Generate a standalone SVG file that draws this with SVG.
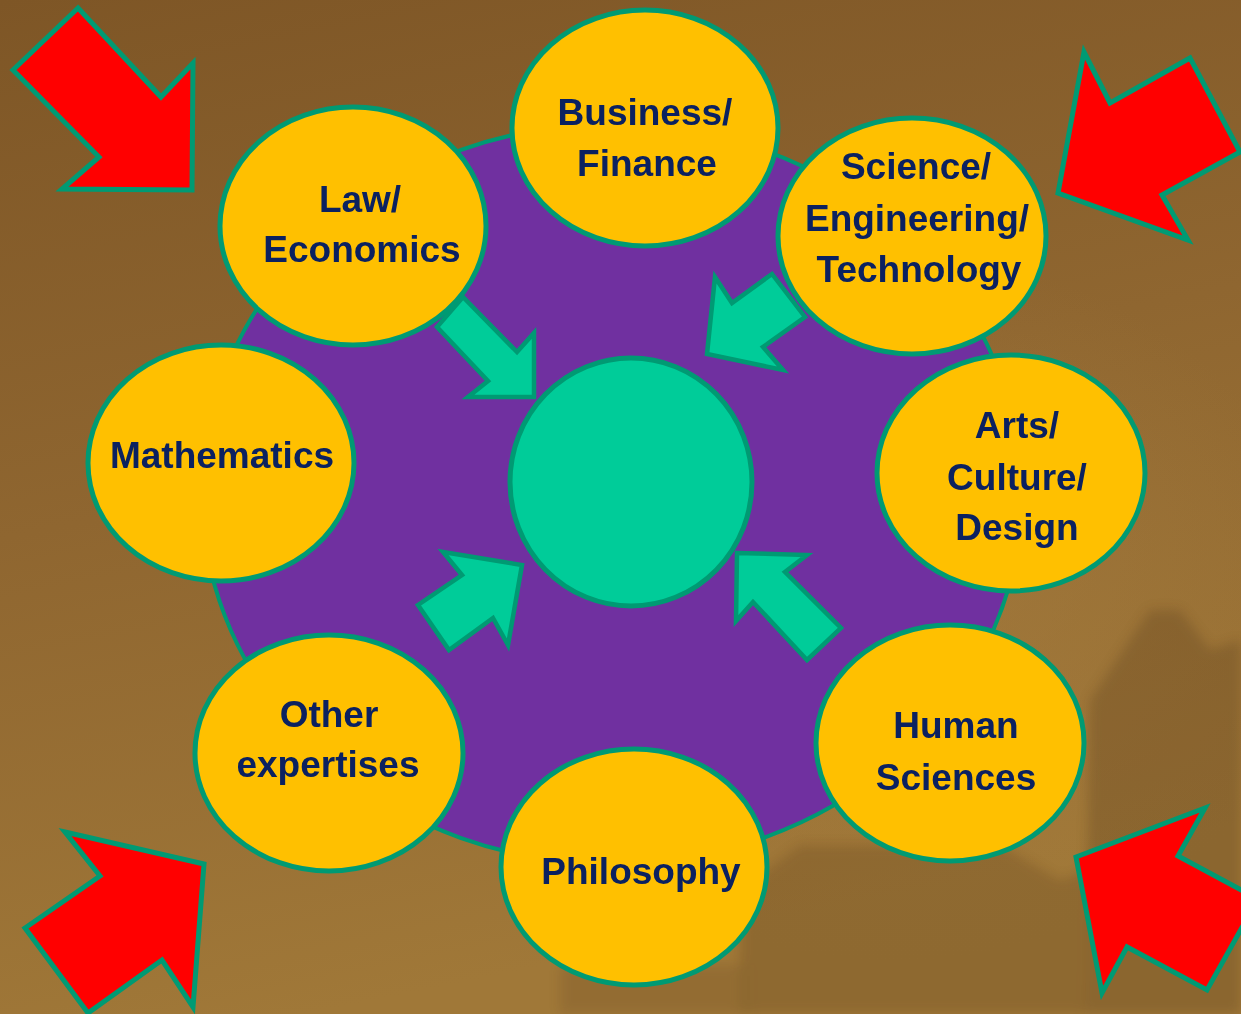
<svg xmlns="http://www.w3.org/2000/svg" width="1241" height="1014" viewBox="0 0 1241 1014">
<defs>
<linearGradient id="bg" x1="0" y1="0" x2="0.25" y2="1">
<stop offset="0" stop-color="#7e5626"/>
<stop offset="0.5" stop-color="#8f6630"/>
<stop offset="1" stop-color="#a07838"/>
</linearGradient>
<radialGradient id="glow" cx="0.72" cy="0.6" r="0.35">
<stop offset="0" stop-color="#a57c3e" stop-opacity="0.6"/>
<stop offset="1" stop-color="#a57c3e" stop-opacity="0"/>
</radialGradient>
<filter id="soft" x="-10%" y="-10%" width="120%" height="120%">
<feGaussianBlur stdDeviation="6"/>
</filter>
<style>
.node{fill:#ffc000;stroke:#009a73;stroke-width:5}
.lbl{font-family:"Liberation Sans",Arial,sans-serif;font-weight:bold;font-size:37px;fill:#0b2160;text-anchor:middle}
.red{fill:#ff0000;stroke:#009a73;stroke-width:5;stroke-linejoin:miter}
.teal{fill:#00cc99;stroke:#009a73;stroke-width:4.5;stroke-linejoin:miter}
.castle{fill:#5a3c1a}
</style>
</defs>
<rect width="1241" height="1014" fill="url(#bg)"/>
<rect width="1241" height="1014" fill="url(#glow)"/>
<g id="castle" filter="url(#soft)" opacity="0.3">
<polygon class="castle" points="1090,700 1150,610 1180,610 1210,650 1241,640 1241,1014 1085,1014"/>
<polygon class="castle" points="740,890 800,845 1000,845 1060,880 1090,870 1090,1014 740,1014" opacity="0.8"/>
<rect class="castle" x="560" y="965" width="190" height="49" opacity="0.6"/>
</g>
<g id="purple-hub">
<ellipse cx="612" cy="494" rx="410" ry="370" fill="#7030a0" stroke="#009a73" stroke-width="4"/>
</g>
<g id="connectors">
<polygon class="teal" points="463,297 517,352 534,333 534,397 468,397 488,381 437,327"/>
<polygon class="teal" points="715,277 732,303 772,274 805,317 763,347 783,370 707,354"/>
<polygon class="teal" points="443,552 522,565 508,645 493,618 449,650 418,605 462,575"/>
<polygon class="teal" points="737,553 807,555 785,572 841,628 807,660 753,602 736,621"/>
</g>
<g id="red-arrows">
<polygon class="red" points="78,8 161,97 193,63 192,190 62,189 99,157 13,70"/>
<polygon class="red" points="1084,52 1110,103 1190,58 1240,152 1162,195 1188,240 1058,193"/>
<polygon class="red" points="65,832 204,864 193,1007 162,960 88,1013 25,928 100,876"/>
<polygon class="red" points="1076,857 1205,808 1178,856 1258,899 1207,990 1127,947 1102,993"/>
</g>
<g id="center">
<ellipse cx="631" cy="482" rx="121" ry="124" fill="#00cc99" stroke="#009a73" stroke-width="5"/>
</g>
<g id="business">
<ellipse class="node" cx="645" cy="128" rx="133" ry="118"/>
<text class="lbl" x="645" y="125">Business/</text>
<text class="lbl" x="647" y="176">Finance</text>
</g>
<g id="law">
<ellipse class="node" cx="353" cy="226" rx="133" ry="119"/>
<text class="lbl" x="360" y="212">Law/</text>
<text class="lbl" x="362" y="262">Economics</text>
</g>
<g id="science">
<ellipse class="node" cx="912" cy="236" rx="134" ry="118"/>
<text class="lbl" x="916" y="179">Science/</text>
<text class="lbl" x="917" y="231">Engineering/</text>
<text class="lbl" x="919" y="282">Technology</text>
</g>
<g id="mathematics">
<ellipse class="node" cx="221" cy="463" rx="133" ry="118"/>
<text class="lbl" x="222" y="468">Mathematics</text>
</g>
<g id="arts">
<ellipse class="node" cx="1011" cy="473" rx="134" ry="118"/>
<text class="lbl" x="1017" y="438">Arts/</text>
<text class="lbl" x="1017" y="490">Culture/</text>
<text class="lbl" x="1017" y="540">Design</text>
</g>
<g id="other">
<ellipse class="node" cx="329" cy="753" rx="134" ry="118"/>
<text class="lbl" x="329" y="727">Other</text>
<text class="lbl" x="328" y="777">expertises</text>
</g>
<g id="human">
<ellipse class="node" cx="950" cy="743" rx="134" ry="118"/>
<text class="lbl" x="956" y="738">Human</text>
<text class="lbl" x="956" y="790">Sciences</text>
</g>
<g id="philosophy">
<ellipse class="node" cx="634" cy="867" rx="133" ry="118"/>
<text class="lbl" x="641" y="884">Philosophy</text>
</g>
</svg>
